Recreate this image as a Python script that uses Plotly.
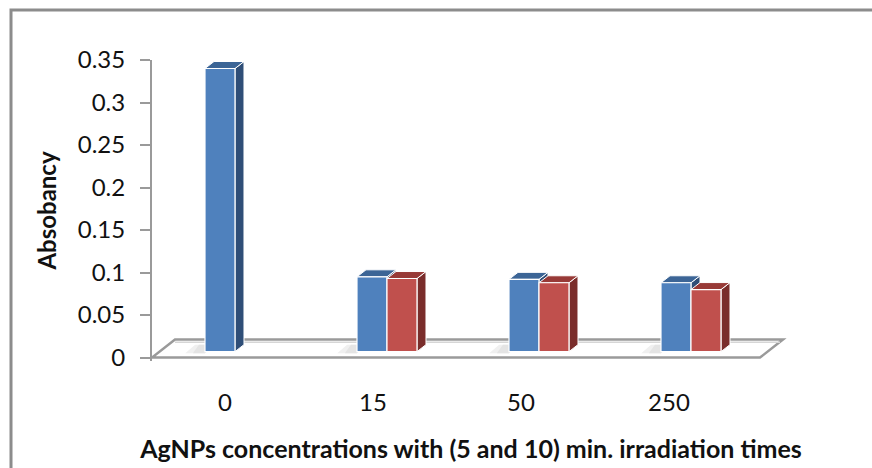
import plotly.graph_objects as go

# ---------------- data ----------------
CATEGORIES = ["0", "15", "50", "250"]
SERIES_NAMES = ["5 min", "10 min"]
ABS_5MIN = [0.333, 0.088, 0.085, 0.081]
ABS_10MIN = [None, 0.086, 0.081, 0.073]
Y_TICKS = [0, 0.05, 0.1, 0.15, 0.2, 0.25, 0.3, 0.35]
Y_TICK_TEXT = ["0", "0.05", "0.1", "0.15", "0.2", "0.25", "0.3", "0.35"]

# ---------------- style ----------------
FRONT = ["#4F81BD", "#C0504D"]
TOP = ["#3C6596", "#983A37"]
SIDE = ["#2F4E77", "#7A2D2B"]
FONT = "Lato"
TXT = "#111111"
GRAY = "#9a9a9a"

W, H = 872, 468
L, R, T = 152, 82, 60
PX_PER_UNIT = 850.0
Y_RANGE = [-0.004, 0.35]
PLOT_H = (Y_RANGE[1] - Y_RANGE[0]) * PX_PER_UNIT
B = H - T - PLOT_H
PX_PER_CAT = 152.0
PLOT_W = W - L - R
X_RANGE = [-0.546, -0.546 + PLOT_W / PX_PER_CAT]

BAR_W = 30 / PX_PER_CAT          # bar width in category units
LIFT = 0.007                     # bars stand at mid-depth of floor
DX = 9 / PX_PER_CAT              # 3D depth offset (x)
DY = 7 / PX_PER_UNIT             # 3D depth offset (y)
FLOOR_DX = 23 / PX_PER_CAT
FLOOR_DY = 18 / PX_PER_UNIT

xs = list(range(len(CATEGORIES)))
series = [ABS_5MIN, ABS_10MIN]

fig = go.Figure()
for i, vals in enumerate(series):
    fig.add_trace(go.Bar(
        x=xs, y=vals, base=[LIFT] * len(vals), name=SERIES_NAMES[i],
        marker=dict(color=FRONT[i], line=dict(color="white", width=1.2)),
        hoverinfo="skip",
    ))

# invisible trace carrying the category tick labels
fig.add_trace(go.Scatter(
    x=CATEGORIES, y=[0] * len(CATEGORIES), xaxis="x2", yaxis="y",
    mode="markers", marker=dict(opacity=0), hoverinfo="skip", showlegend=False,
))

shapes = []
# floor slab
fl, fr = X_RANGE[0], 3.454
shapes.append(dict(
    type="path", xref="x", yref="y", layer="below",
    path=f"M {fl},0 L {fr},0 L {fr + FLOOR_DX},{FLOOR_DY} L {fl + FLOOR_DX},{FLOOR_DY} Z",
    fillcolor="white", line=dict(color=GRAY, width=2.5),
))
shapes.append(dict(
    type="line", xref="x", yref="y", layer="below",
    x0=fl + FLOOR_DX, y0=FLOOR_DY - 0.003, x1=fr + FLOOR_DX - 0.02, y1=FLOOR_DY - 0.003,
    line=dict(color="#d6d6d6", width=1.5),
))
# soft shadows at the bar bases
for j in xs:
    for k, c in enumerate(["#f0f0f0", "#e4e4e4"]):
        w = 0.13 - 0.05 * k
        shapes.append(dict(
            type="path", xref="x", yref="y", layer="below",
            path=(f"M {j - BAR_W - w},{LIFT - 0.002} L {j - BAR_W},{LIFT - 0.002} "
                  f"L {j - BAR_W + DX},{LIFT + DY} L {j - BAR_W - w * 0.5},{LIFT + DY} Z"),
            fillcolor=c, line=dict(width=0),
        ))

# 3D top and side faces
for i, vals in enumerate(series):
    off = -BAR_W if i == 0 else 0.0
    for j, v in zip(xs, vals):
        if v is None:
            continue
        x0 = j + off
        x1 = x0 + BAR_W
        top = LIFT + v
        shapes.append(dict(
            type="path", xref="x", yref="y", layer="below",
            path=f"M {x1},{LIFT} L {x1 + DX},{LIFT + DY} L {x1 + DX},{top + DY} L {x1},{top} Z",
            fillcolor=SIDE[i], line=dict(color="white", width=1),
        ))
        shapes.append(dict(
            type="path", xref="x", yref="y", layer="below",
            path=f"M {x0},{top} L {x1},{top} L {x1 + DX},{top + DY} L {x0 + DX},{top + DY} Z",
            fillcolor=TOP[i], line=dict(color="white", width=1),
        ))

# outer chart border
shapes.append(dict(
    type="rect", xref="paper", yref="paper", layer="above",
    x0=(11 - L) / PLOT_W, x1=(W + 20 - L) / PLOT_W,
    y0=-(B + 20) / PLOT_H, y1=(H - 10 - B) / PLOT_H,
    line=dict(color="#8c8c8c", width=3), fillcolor="rgba(0,0,0,0)",
))

fig.update_layout(
    width=W, height=H,
    margin=dict(l=L, r=R, t=T, b=B, autoexpand=False),
    paper_bgcolor="white", plot_bgcolor="rgba(0,0,0,0)",
    barmode="group", bargap=1 - 2 * BAR_W, bargroupgap=0,
    showlegend=False,
    font=dict(family=FONT, color=TXT),
    shapes=shapes,
    xaxis=dict(
        range=X_RANGE, showticklabels=False, ticks="", showgrid=False,
        zeroline=False, showline=False, fixedrange=True,
        title=dict(text="<b>AgNPs concentrations with (5 and 10) min. irradiation times</b>",
                   font=dict(size=25, family=FONT, color=TXT), standoff=79),
    ),
    xaxis2=dict(
        type="category", domain=[0, 592 / PLOT_W], range=[-0.493, 3.507],
        anchor="y", showgrid=False, zeroline=False, showline=False, ticks="",
        tickfont=dict(size=24, family=FONT, color=TXT), ticklabelstandoff=25,
    ),
    yaxis=dict(
        range=Y_RANGE, tickvals=Y_TICKS, ticktext=Y_TICK_TEXT,
        showgrid=False, zeroline=False, showline=True, linecolor=GRAY, linewidth=2,
        ticks="outside", ticklen=10, tickwidth=2, tickcolor=GRAY,
        tickfont=dict(size=24, family=FONT, color=TXT), ticklabelstandoff=10,
        title=dict(text="<b>Absobancy</b>", font=dict(size=24, family=FONT, color=TXT),
                   standoff=14),
    ),
)

fig.write_html("out.html")
